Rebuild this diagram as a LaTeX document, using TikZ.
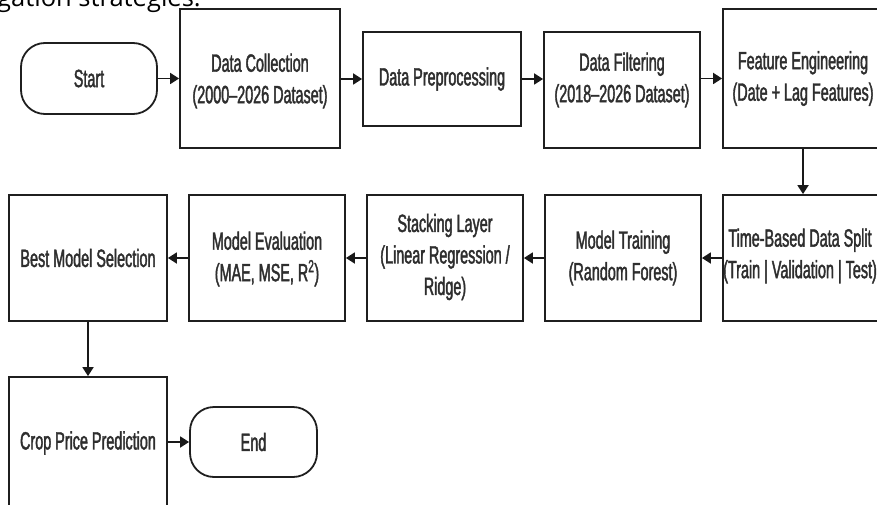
\documentclass[tikz,border=0pt]{standalone}
\usepackage{fontspec}
\setmainfont{Liberation Sans}[FakeStretch=0.575, FakeBold=1.6]
\newfontfamily\captionfont{Open Sans}
\usetikzlibrary{arrows.meta}

\tikzset{
  box/.style={draw=black!88, line width=1.8pt, inner sep=0pt, fill=white},
  term/.style={box, rounded corners=24pt},
  txt/.style={align=center, text=black!82, inner sep=0pt,
    font=\fontsize{25}{31.5}\selectfont},
  flow/.style={draw=black!90, line width=1.8pt, -{Triangle[length=9pt,width=11pt]}}
}

\begin{document}
\begin{tikzpicture}[x=1pt, y=-1pt]
\useasboundingbox (0,0) rectangle (877,505);

% tail of the caption line above the chart
\node[anchor=base west, inner sep=0pt, font=\captionfont\fontsize{25.5}{30}\selectfont]
  (caption) at (-3,7) {gation strategies.};

% first row
\node[term, minimum width=136pt, minimum height=71pt] (start) at (89,78.5) {};
\node[txt] at (start.center) {Start};
\node[box, minimum width=160pt, minimum height=139pt] (dc) at (260,78.5) {};
\node[txt] at (260,81) {Data Collection\\(2000–2026 Dataset)};
\node[box, minimum width=158pt, minimum height=94pt] (pre) at (442,79) {};
\node[txt] at (pre.center) {Data Preprocessing};
\node[box, minimum width=156pt, minimum height=116pt] (filt) at (622,90) {};
\node[txt] at (622,80) {Data Filtering\\(2018–2026 Dataset)};
\node[box, minimum width=160pt, minimum height=139pt] (feat) at (803,78.5) {};
\node[txt] at (803,78.5) {Feature Engineering\\(Date + Lag Features)};

% second row
\node[box, minimum width=160pt, minimum height=126pt] (time) at (803,258) {};
\node[txt] at (800,256) {Time-Based Data Split\\(Train | Validation | Test)};
\node[box, minimum width=156pt, minimum height=126pt] (train) at (623,258) {};
\node[txt] at (train.center) {Model Training\\(Random Forest)};
\node[box, minimum width=156pt, minimum height=126pt] (stack) at (445,258) {};
\node[txt] at (445,257) {Stacking Layer\\(Linear Regression /\\Ridge)};
\node[box, minimum width=156pt, minimum height=126pt] (eval) at (267,258) {};
\node[txt] at (267,259) {Model Evaluation\\(MAE, MSE, R\textsuperscript{2})};
\node[box, minimum width=158pt, minimum height=126pt] (best) at (88,258) {};
\node[txt] at (best.center) {Best Model Selection};

% third row
\node[box, minimum width=158pt, minimum height=132pt] (crop) at (88,443) {};
\node[txt] at (crop.center) {Crop Price Prediction};
\node[term, minimum width=127pt, minimum height=70pt] (end) at (253.5,442) {};
\node[txt] at (end.center) {End};

% connectors
\draw[flow] (start.east) -- (start.east -| dc.west);
\draw[flow] (dc.east |- pre.west) -- (pre.west);
\draw[flow] (pre.east) -- (pre.east -| filt.west);
\draw[flow] (feat.west -| filt.east) -- (feat.west);
\draw[flow] (feat.south) -- (time.north);
\draw[flow] (time.west) -- (train.east);
\draw[flow] (train.west) -- (stack.east);
\draw[flow] (stack.west) -- (eval.east);
\draw[flow] (eval.west) -- (best.east);
\draw[flow] (best.south) -- (crop.north);
\draw[flow] (end.west -| crop.east) -- (end.west);
\end{tikzpicture}
\end{document}
